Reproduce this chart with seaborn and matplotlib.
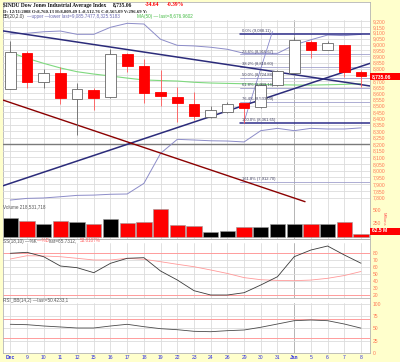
import matplotlib
matplotlib.use("Agg")
import numpy as np
import matplotlib.pyplot as plt
from matplotlib.patches import Rectangle
from matplotlib.ticker import FixedLocator, NullLocator, FixedFormatter, NullFormatter
import seaborn as sns

# ---------------- data ----------------
days = ["Dec", "9", "10", "11", "12", "15", "16", "17", "18", "19", "22", "23",
        "24", "26", "29", "30", "31", "Jan", "5", "6", "7", "8"]
prev_close = 8635.42
opens = [8637, 8931, 8688, 8760.13, 8556, 8626, 8567, 8921, 8824, 8607, 8572, 8513,
         8413, 8452, 8519, 8487, 8666, 8766, 9024, 8954, 8996, 8770]
highs = [9030, 8945, 8796, 8809.49, 8685, 8640, 8960, 8930, 8877, 8788, 8652, 8607,
         8498, 8530, 8525, 8680, 8790, 9066, 9034, 9030, 9000, 8790]
lows = [8630, 8644, 8644, 8512.76, 8270, 8466, 8560, 8774, 8524, 8498, 8374, 8390,
        8405, 8445, 8362, 8480, 8660, 8760, 8885, 8950, 8735, 8652]
closes = [8934.18, 8691.33, 8761.42, 8565.09, 8629.68, 8564.53, 8924.14, 8824.34,
          8604.99, 8579.11, 8519.69, 8419.49, 8468.48, 8515.55, 8483.93, 8668.39,
          8776.39, 9034.69, 8952.89, 9015.10, 8769.70, 8735.06]
volume_m = [352, 286, 245, 296.69, 280, 245, 334, 257, 280, 518, 221, 196,
            96, 114, 179, 191, 232, 232, 245, 232, 275, 62.5]
bb_upper = [9089, 9095, 9108, 9114, 9086, 9086, 9146, 9180, 9174, 9044, 8993, 8988,
            8977, 8960, 8926, 8926, 8926, 8996, 9040, 9080, 9075, 9085.75]
bb_lower = [7783, 7795, 7798, 7807, 7817, 7819, 7825, 7827, 7905, 8130, 8237, 8232,
            8226, 8224, 8217, 8304, 8322, 8304, 8322, 8317, 8317, 8325.52]
ma50 = [8935, 8885, 8843, 8805, 8774, 8755, 8739, 8722, 8707, 8702, 8698, 8688,
        8682, 8679, 8676, 8672, 8668, 8666, 8665, 8668, 8671, 8676.96]
ss_k = [80, 81.4, 75.1, 61.7, 59.3, 52.1, 65.6, 72.8, 73.7, 54.5, 41.6, 26.2,
        20, 20, 23.3, 34.4, 46.3, 75.1, 84.7, 90.5, 77.6, 65.73]
ss_d = [71.8, 76.5, 76.1, 75.1, 72.8, 70.4, 70.4, 72.8, 71.4, 67.9, 64.2, 60.7,
        56, 51, 45, 42, 41, 40.6, 41.5, 44, 48, 53.81]
rsi = [58.3, 57.5, 54.8, 52.8, 50.7, 50.7, 54.8, 58.3, 53.4, 49.3, 47.2, 43.9,
       43.1, 45.2, 46.6, 52.2, 58.9, 65.7, 67.1, 65.7, 58.9, 50.42]
price_ticks = list(range(7800, 9201, 50))
ss_ticks = [20, 30, 40, 50, 60, 70, 80]
rsi_ticks = [0, 25, 50, 75, 100]
vol_ticks = [250, 500]
fib_pcts = [0.0, 23.6, 38.2, 50.0, 61.8, 76.4, 100.0, 161.8]
fib_high, fib_low = 9088.11, 8361.65
trend_down = ([-0.62, 21.54], [9119, 8658])
trend_up = ([-0.62, 21.54], [7880, 8843])
trend_red = ([-0.62, 17.65], [8553, 7771])
fib_diag = ([13.97, 15.7], [8361.65, 9110])
support = 8200

# ---------------- style ----------------
sns.set_style("white")
plt.rcParams["font.family"] = ["Liberation Sans", "DejaVu Sans"]

W, H = 400, 362
fig = plt.figure(figsize=(W / 100, H / 100), dpi=100)
fig.patch.set_facecolor("#ffffcc")


def box(top, bottom, left=3, right=370):
    return [left / W, 1 - bottom / H, (right - left) / W, (bottom - top) / H]


n = len(days)
idx = np.arange(n)
xlim = (-0.437, 21.54)
GRID = "#dcdcdc"
LAB = "#ff7755"
SPINE = "#b4b4b4"


def vgrid(a, ymax):
    for i in idx:
        a.axvline(i, ymax=ymax, color="#a8a8a8" if days[i] == "Jan" else GRID,
                  lw=0.6, zorder=0)


def style_axes(a):
    for s in a.spines.values():
        s.set_color(SPINE)
        s.set_linewidth(0.6)
    a.tick_params(axis="x", length=0, labelbottom=False)
    a.yaxis.tick_right()
    a.tick_params(axis="y", length=0, pad=2, labelsize=3.6, labelcolor=LAB)


# ---------------- main panel ----------------
ax_vol = fig.add_axes(box(2, 238.5))
ax = fig.add_axes(box(2, 238.5))
ax_vol.set_zorder(1)
ax.set_zorder(2)
ax.patch.set_visible(False)
ax_vol.set_facecolor("white")
style_axes(ax_vol)
for s in ax.spines.values():
    s.set_visible(False)

vgrid(ax_vol, 0.924)
prevs = [prev_close] + closes[:-1]
down = [c < p for c, p in zip(closes, prevs)]
vcol = ["#ff0000" if d else "#000000" for d in down]
ax_vol.bar(idx, volume_m, width=0.92, color=vcol, edgecolor="#9a9a9a",
           linewidth=0.4, zorder=2)
ax_vol.set_xlim(*xlim)
ax_vol.set_ylim(-21.4, 4244.6)
ax_vol.set_yticks(vol_ticks)
ax_vol.set_yticklabels([str(v) for v in vol_ticks])

ax.set_yscale("log")
ax.set_xlim(*xlim)
ax.set_ylim(7508.3, 9364.6)
for lv in price_ticks:
    ax.axhline(lv, color=GRID, lw=0.6, zorder=0)

ax.plot([xlim[0], xlim[1]], [support, support], color="#7a7a7a", lw=1.0, zorder=1)
sns.lineplot(x=idx, y=bb_upper, ax=ax, color="#8c8cc8", lw=0.7, zorder=2)
sns.lineplot(x=idx, y=bb_lower, ax=ax, color="#8c8cc8", lw=0.7, zorder=2)
sns.lineplot(x=idx, y=ma50, ax=ax, color="#7fd97f", lw=0.8, zorder=2)

fib_prices = [fib_high - p / 100 * (fib_high - fib_low) for p in fib_pcts]
for p, v in zip(fib_pcts, fib_prices):
    thick = p in (0.0, 100.0)
    ax.plot([13.75, xlim[1]], [v, v], color="#2e2e8a" if thick else "#a0a0cc",
            lw=1.1 if thick else 0.6, zorder=2)
    ax.text(13.85, v * 1.0009, f"{p:.1f}% ({v:,.2f})", fontsize=3.0,
            color="#404060", va="bottom", ha="left", zorder=6)
ax.plot(*fib_diag, color="#8888cc", lw=0.6, zorder=2)

ax.plot(*trend_down, color="#2b2b7a", lw=1.1, zorder=3)
ax.plot(*trend_up, color="#2b2b7a", lw=1.1, zorder=3)
ax.plot(*trend_red, color="#8b0000", lw=1.0, zorder=3)

for i in idx:
    o, hi, lo, c = opens[i], highs[i], lows[i], closes[i]
    red = down[i]
    col = "#ff0000" if red else "#555555"
    ax.vlines(i, lo, hi, color="#ff5555" if red else "#666666", lw=0.6, zorder=4)
    filled = c < o
    ax.bar(i, abs(c - o), bottom=min(o, c), width=0.64,
           color=col if filled else "white",
           edgecolor=col if filled else "#666666", linewidth=0.6, zorder=5)

ax.set_xlabel("")
ax.set_ylabel("")
ax.yaxis.tick_right()
ax.yaxis.set_major_locator(FixedLocator(price_ticks))
# the label hidden behind the last-price box is left blank
price_labels = ["" if abs(v - closes[-1]) < 30 else f"{v:,}" for v in price_ticks]
ax.yaxis.set_major_formatter(FixedFormatter(price_labels))
ax.yaxis.set_minor_locator(NullLocator())
ax.yaxis.set_minor_formatter(NullFormatter())
ax.tick_params(axis="y", which="both", length=0, pad=2, labelsize=3.6, labelcolor=LAB)
ax.tick_params(axis="x", length=0, labelbottom=False)

# last price box
disp = ax.transData.transform((0, closes[-1]))
yf = fig.transFigure.inverted().transform(disp)[1]
fig.patches.append(Rectangle((370 / W, yf - 3.6 / H), 30 / W, 7.2 / H,
                             transform=fig.transFigure, fc="#ff0000", ec="none"))
fig.text(371.5 / W, yf, f"{closes[-1]:,.2f}", fontsize=3.6, color="white",
         weight="bold", va="center", ha="left")
# last volume box
fig.patches.append(Rectangle((370 / W, 1 - 234.5 / H), 30 / W, 7 / H,
                             transform=fig.transFigure, fc="#ff0000", ec="none"))
fig.text(372 / W, 1 - 231 / H, f"{volume_m[-1]:.1f} M", fontsize=3.6, color="white",
         weight="bold", va="center", ha="left")
fig.text(384 / W, 1 - 219 / H, "Millions", fontsize=3.0, color="#ff5555",
         rotation=-90, va="center", ha="center")

# header
serif = ["Liberation Serif", "DejaVu Serif"]
fig.text(3 / W, 1 - 5 / H, "$INDU Dow Jones Industrial Average Index", fontsize=4.0,
         weight="bold", family=serif, va="center", ha="left", color="#111111")
fig.text(113 / W, 1 - 5 / H, f"{closes[-1]:,.2f}", fontsize=4.0, weight="bold",
         family=serif, va="center", ha="left", color="#111111")
fig.text(145 / W, 1 - 5 / H, "-34.64", fontsize=4.0, weight="bold",
         family=serif, va="center", ha="left", color="#ff0000")
fig.text(167 / W, 1 - 5 / H, "-0.39%", fontsize=4.0, weight="bold",
         family=serif, va="center", ha="left", color="#ff0000")
fig.text(3 / W, 1 - 11.5 / H,
         "D: 12/11/2008 O:8,760.13 H:8,809.49 L:8,512.76 C:8,565.09 V:296.69 Y:",
         fontsize=3.4, family=serif, weight="bold", va="center", ha="left",
         color="#222222")
fig.text(3 / W, 1 - 16.8 / H, "BB(20,2.0)", fontsize=3.3, va="center", ha="left",
         color="#333333")
fig.text(27 / W, 1 - 16.8 / H,
         "\u2014upper \u2014lower last=9,085.7477,8,325.5183", fontsize=3.3,
         va="center", ha="left", color="#6a6ab0")
fig.text(137 / W, 1 - 16.8 / H, "MA(50) \u2014 last=8,676.9602", fontsize=3.3,
         va="center", ha="left", color="#44bb44")
fig.text(3 / W, 1 - 207 / H, "Volume 218,531,718", fontsize=3.3, va="center",
         ha="left", color="#555555")

# ---------------- SS panel ----------------
ax_ss = fig.add_axes(box(238.5, 297.5))
ax_ss.set_facecolor("white")
style_axes(ax_ss)
vgrid(ax_ss, 0.924)
for lv in ss_ticks:
    ax_ss.axhline(lv, color=GRID, lw=0.6, zorder=0)
for lv in (20, 80):
    ax_ss.axhline(lv, color="#ff9c9c", lw=0.7, zorder=1)
sns.lineplot(x=idx, y=ss_d, ax=ax_ss, color="#ff9999", lw=0.6, zorder=2)
sns.lineplot(x=idx, y=ss_k, ax=ax_ss, color="#3a3a3a", lw=0.6, zorder=3)
ax_ss.set_xlim(*xlim)
ax_ss.set_ylim(16.4, 101.3)
ax_ss.set_yticks(ss_ticks)
ax_ss.set_yticklabels([str(v) for v in ss_ticks])
ax_ss.set_xlabel("")
ax_ss.set_ylabel("")
fig.text(3 / W, 1 - 241 / H, "SS(18,10) \u2014%K", fontsize=3.3, va="center",
         ha="left", color="#555555")
fig.text(37 / W, 1 - 241 / H, "\u2014%D", fontsize=3.3, va="center",
         ha="left", color="#ff6666")
fig.text(49 / W, 1 - 241 / H, "last=65.7312,", fontsize=3.3, va="center",
         ha="left", color="#555555")
fig.text(80 / W, 1 - 241 / H, "53.8107%", fontsize=3.3, va="center",
         ha="left", color="#ff6666")

# ---------------- RSI panel ----------------
ax_rsi = fig.add_axes(box(297.5, 353))
ax_rsi.set_facecolor("white")
style_axes(ax_rsi)
vgrid(ax_rsi, 0.90)
for lv in rsi_ticks:
    ax_rsi.axhline(lv, color=GRID, lw=0.6, zorder=0)
for lv in (30, 70):
    ax_rsi.axhline(lv, color="#ff9c9c", lw=0.7, zorder=1)
sns.lineplot(x=idx, y=rsi, ax=ax_rsi, color="#4a4a4a", lw=0.6, zorder=3)
ax_rsi.set_xlim(*xlim)
ax_rsi.set_ylim(-0.62, 113.3)
ax_rsi.set_yticks(rsi_ticks)
ax_rsi.set_yticklabels([str(v) for v in rsi_ticks])
ax_rsi.set_xlabel("")
ax_rsi.set_ylabel("")
ax_rsi.set_xticks(idx)
ax_rsi.set_xticklabels(days)
ax_rsi.tick_params(axis="x", length=0, pad=1.2, labelsize=3.6, labelcolor="#2f2fe0",
                   labelbottom=True)
for t in ax_rsi.get_xticklabels():
    if t.get_text() in ("Dec", "Jan"):
        t.set_fontweight("bold")
fig.text(3 / W, 1 - 300.5 / H, "RSI_BB(14,2) \u2014last=50.4233,1", fontsize=3.3,
         va="center", ha="left", color="#555555")

fig.savefig("out.png", dpi=100, facecolor=fig.get_facecolor())
